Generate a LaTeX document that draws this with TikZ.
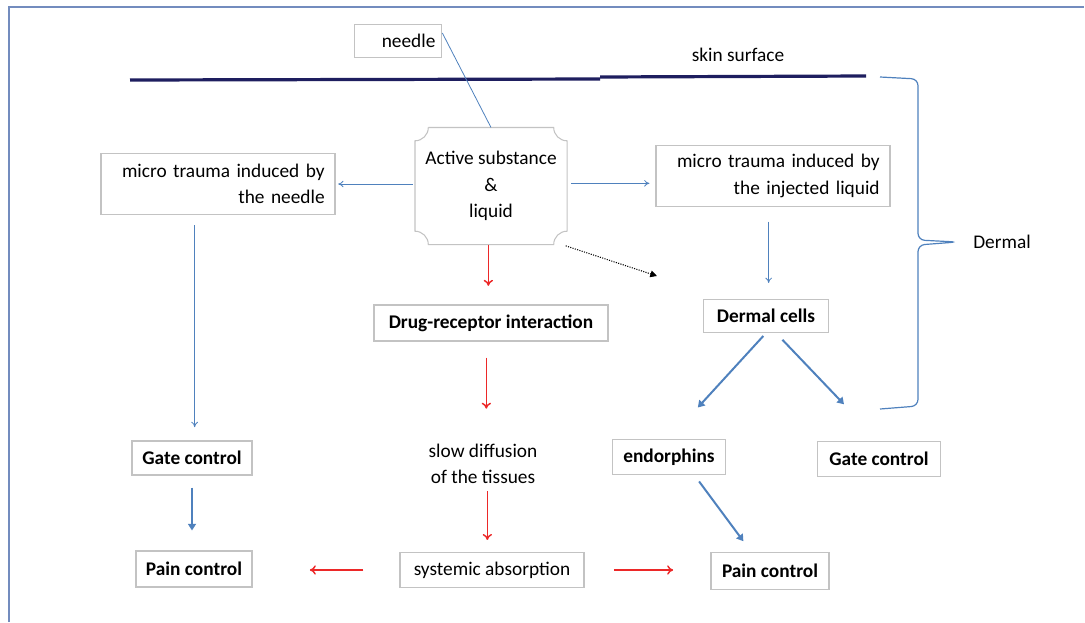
\documentclass[tikz,border=0pt]{standalone}
\usepackage{fontspec}
\setmainfont{Carlito}
\usetikzlibrary{arrows.meta,positioning}

\definecolor{linkblue}{RGB}{79,129,189}
\definecolor{boxgray}{RGB}{195,195,195}
\definecolor{skinnavy}{RGB}{30,30,95}
\definecolor{arrowred}{RGB}{236,40,40}
\definecolor{framegray}{RGB}{115,140,190}

\tikzstyle{block} = [rectangle, draw=boxgray, line width=0.8pt, inner sep=1ex, font=\fontsize{14.5}{20}\selectfont]
\tikzstyle{boldblock} = [block, font=\fontsize{14.5}{20}\selectfont\bfseries]
\tikzstyle{thinlink} = [draw=linkblue, line width=0.6pt, -{To[length=4pt,width=5pt]}]
\tikzstyle{thicklink} = [draw=linkblue, line width=1.5pt, -{Triangle[length=5pt,width=6pt]}]
\tikzstyle{redlink} = [draw=arrowred, line width=1.1pt, -{To[length=4.5pt,width=7pt]}]

\begin{document}
\begin{tikzpicture}[x=0.75pt, y=-0.75pt]
        \useasboundingbox (0,0) rectangle (1085,622);
        % frame and skin surface
        \draw[framegray, line width=1.3pt] (9,622) -- (9,7) -- (1084,7);
        \draw[skinnavy, line width=2.4pt] (130,80) -- (600,79);
        \draw[skinnavy, line width=2.4pt] (600,77) -- (866,76);
        \node (skin) at (738,55) [font=\fontsize{14.5}{20}\selectfont] {skin surface};

        % top row
        \node (needle) at (398,41) [block, minimum width=60pt, minimum height=24.75pt] {\hspace{1.1em}needle};
        \node (active) at (491,186) [block, draw=none, minimum width=113.25pt, minimum height=87pt, align=center] {Active substance\\ \&\\ liquid};
        \draw[boxgray, line width=0.8pt]
            ([xshift=10pt]active.north west) -- ([xshift=-10pt]active.north east)
            arc[start angle=180, end angle=270, radius=10pt]
            -- ([yshift=10pt]active.south east)
            arc[start angle=90, end angle=180, radius=10pt]
            -- ([xshift=10pt]active.south west)
            arc[start angle=0, end angle=90, radius=10pt]
            -- ([yshift=-10pt]active.north west)
            arc[start angle=270, end angle=360, radius=10pt];
        \node (lmicro) at (218,184) [block, minimum width=175.5pt, minimum height=45.75pt, text width=160pt, align=right] {micro trauma induced by\\ the needle};
        \node (rmicro) at (773,176) [block, minimum width=175.5pt, minimum height=45.75pt, text width=160pt, align=right] {micro trauma induced by\\ the injected liquid};

        % middle row
        \node (drug) at (491,323) [boldblock, minimum width=175.5pt, minimum height=27pt] {Drug-receptor interaction};
        \node (cells) at (766,316) [boldblock, minimum width=93.75pt, minimum height=24.75pt] {Dermal cells};
        \node (slow) at (483,464) [block, draw=none, align=center, inner sep=2pt] {slow diffusion\\ of the tissues};
        \node (lgate) at (192,458) [boldblock, minimum width=90pt, minimum height=25.5pt] {Gate control};
        \node (endorph) at (669,457) [boldblock, minimum width=84.75pt, minimum height=26.25pt] {endorphins};
        \node (rgate) at (879,459) [boldblock, minimum width=92.25pt, minimum height=26.25pt] {Gate control};

        % bottom row
        \node (lpain) at (194,569) [boldblock, minimum width=87pt, minimum height=27pt] {Pain control};
        \node (absorb) at (492,570) [block, minimum width=138pt, minimum height=26.25pt] {systemic absorption};
        \node (rpain) at (770,571) [boldblock, minimum width=88.5pt, minimum height=27.75pt] {Pain control};
        \node (dermal) at (1002,242) [font=\fontsize{14.5}{20}\selectfont] {Dermal};

        % connectors
        \draw[linkblue, line width=0.6pt] ([yshift=6pt]needle.east) -- (active.north);
        \draw[thinlink, shorten <=1.5pt, shorten >=2pt] ([yshift=1.5pt]active.west) -- ([yshift=1.5pt]active.west -| lmicro.east);
        \draw[thinlink, shorten <=3pt, shorten >=4.5pt] ([yshift=2pt]active.east) -- ([yshift=2pt]active.east -| rmicro.west);
        \coordinate (dotend) at (657,276);
        \draw[densely dotted, line width=0.8pt, -{Triangle[length=5pt,width=5pt]}] ([shift={(-1pt,-1pt)}]active.south east) -- (dotend);
        \draw[thinlink, shorten <=7.5pt, shorten >=10pt] ([xshift=2pt]lgate.north |- lmicro.south) -- ([xshift=2pt]lgate.north);
        \draw[thinlink, shorten <=11pt, shorten >=12pt] ([xshift=2pt]cells.north |- rmicro.south) -- ([xshift=2pt]cells.north);
        \draw[redlink, shorten >=14pt] ([xshift=-2pt]active.south) -- ([xshift=-2pt]active.south |- drug.north);
        \draw[redlink, shorten <=12pt, shorten >=24pt] ([xshift=-3.5pt]drug.south) -- ([xshift=-3.5pt]drug.south |- slow.north);
        \draw[redlink, shorten <=3pt, shorten >=9pt] ([xshift=-3.5pt]absorb.north |- slow.south) -- ([xshift=-3.5pt]absorb.north);
        \draw[redlink, shorten <=27pt, shorten >=43pt] (absorb.west) -- (absorb.west -| lpain.east);
        \draw[redlink, shorten <=22pt, shorten >=28pt] (absorb.east) -- (absorb.east -| rpain.west);
        \draw[thicklink, shorten <=3pt, shorten >=32pt] (cells.south) -- (endorph.north);
        \draw[thicklink, shorten <=7pt, shorten >=38pt] ([xshift=7.5pt]cells.south) -- (rgate.north);
        \draw[thicklink, shorten <=9pt, shorten >=15pt] (lgate.south) -- (lgate.south |- lpain.north);
        \draw[thicklink, shorten <=6pt, shorten >=10pt] ([xshift=19pt]endorph.south) -- ([xshift=-14pt]rpain.north);

        % brace for the dermal layer
        \draw[linkblue, line width=0.9pt, rounded corners=5pt]
            (880,77) -- (918,79) -- (918,240) -- (957,242) -- (918,245) -- (918,406) -- (880,409);
\end{tikzpicture}
\end{document}
